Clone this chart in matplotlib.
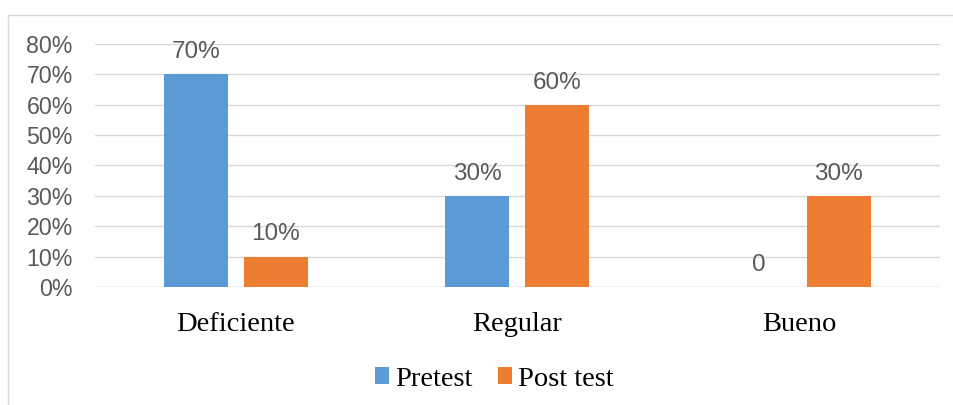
import numpy as np
import matplotlib
matplotlib.use('Agg')
import matplotlib.pyplot as plt
from matplotlib.patches import Rectangle
from matplotlib.ticker import FuncFormatter

categories = ['Deficiente', 'Regular', 'Bueno']
pretest = [70, 30, 0]
posttest = [10, 60, 30]
pre_labels = ['70%', '30%', '0']
post_labels = ['10%', '60%', '30%']
series_names = ['Pretest', 'Post test']
yticks = [0, 10, 20, 30, 40, 50, 60, 70, 80]

blue = '#5B9BD5'
orange = '#ED7D31'
grey_txt = '#595959'
grid_c = '#D9D9D9'

fig = plt.figure(figsize=(9.54, 4.05), dpi=100)
ax = fig.add_axes([0.0996, 0.2914, 0.8854, 0.6])

# outer chart border (only top/left visible in the crop)
fig.patches.append(Rectangle((8 / 954, -0.1), 1.2, 1 - 15 / 405 + 0.1,
                             transform=fig.transFigure, fill=False,
                             edgecolor=grid_c, linewidth=1.0))

x = np.arange(len(categories))
w = 0.227
off = 0.142
b1 = ax.bar(x - off, pretest, w, color=blue, label=series_names[0], zorder=3)
b2 = ax.bar(x + off, posttest, w, color=orange, label=series_names[1], zorder=3)

for bars, labs in ((b1, pre_labels), (b2, post_labels)):
    for b, t in zip(bars, labs):
        ax.annotate(t, (b.get_x() + b.get_width() / 2, b.get_height()),
                    xytext=(0, 8), textcoords='offset points',
                    ha='center', va='bottom', fontsize=17.5,
                    color=grey_txt, family='Liberation Sans')

ax.set_xlim(-0.5, 2.5)
ax.set_ylim(0, 80)
ax.set_yticks(yticks)
ax.yaxis.set_major_formatter(FuncFormatter(lambda v, p: f'{v:.0f}%'))
ax.grid(axis='y', color=grid_c, linewidth=1.0, zorder=0)
ax.set_axisbelow(True)
for s in ax.spines.values():
    s.set_visible(False)
ax.axhline(0, color=grid_c, linewidth=1.0, zorder=1)

ax.set_xticks(x)
ax.set_xticklabels(categories, family='Liberation Serif', fontsize=20.5, color='black')
ax.tick_params(axis='x', length=0, pad=18)
ax.tick_params(axis='y', length=0, pad=16, labelsize=16.7, labelcolor=grey_txt)
for lab in ax.get_yticklabels():
    lab.set_family('Liberation Sans')

leg = fig.legend(loc='center', bbox_to_anchor=(494 / 954, 1 - 379 / 405), ncol=2,
                 frameon=False, prop={'family': 'Liberation Serif', 'size': 20.5},
                 handlelength=0.5, handleheight=0.5, handletextpad=0.2,
                 columnspacing=0.9)

fig.savefig('out.png', dpi=100)
